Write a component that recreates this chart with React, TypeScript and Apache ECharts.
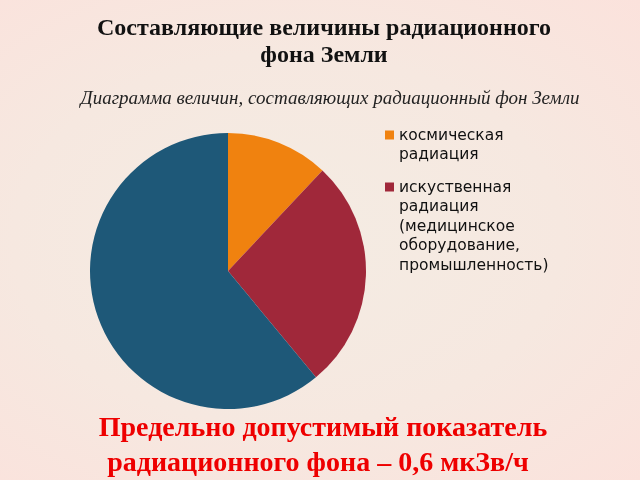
import { useEffect, useRef } from 'react';
import * as echarts from 'echarts';

// slice names + shares (clockwise from 12 o'clock)
const sliceNames = ['космическая радиация', 'искуственная радиация', 'природная радиация'];
const sliceValues = [12, 27, 61];
const sliceColors = ['#f0820f', '#a0283a', '#1e5878'];
// how the legend wraps each name
const legendLabels = [
  'космическая\nрадиация',
  'искуственная\nрадиация\n(медицинское\nоборудование,\nпромышленность)',
];

const LH = 19.4;

export default function App() {
  const elRef = useRef<HTMLDivElement>(null);

  useEffect(() => {
    const el = elRef.current;
    if (!el) return;
    const chart = echarts.init(el, undefined, { renderer: 'svg' });

    // legend text is centred on its icon; pad with empty lines on top so the
    // icon sits level with the first line instead
    const legendFor = (i: number, iconY: number) => {
      const lines = legendLabels[i].split('\n').length;
      const text = '\n'.repeat(lines - 1) + legendLabels[i];
      const boxH = (2 * lines - 1) * LH;
      return {
        show: true,
        data: [sliceNames[i]],
        left: 385,
        top: iconY - boxH / 2,
        padding: 0,
        orient: 'vertical' as const,
        icon: 'rect',
        itemWidth: 9,
        itemHeight: 9,
        selectedMode: false,
        formatter: () => text,
        textStyle: {
          fontFamily: 'DejaVu Sans',
          fontSize: 15.5,
          color: '#111',
          lineHeight: LH,
        },
      };
    };

    const serif = {
      fontFamily: 'Liberation Serif',
      fontWeight: 'bold' as const,
    };

    chart.setOption({
      animation: false,
      backgroundColor: 'transparent',
      title: [
        {
          text: 'Составляющие величины радиационного\nфона Земли',
          left: 319,
          top: 8,
          textAlign: 'center',
          textStyle: { ...serif, fontSize: 24, lineHeight: 27, color: '#111' },
        },
        {
          text: 'Диаграмма величин, составляющих радиационный фон Земли',
          left: 325,
          top: 83,
          textAlign: 'center',
          textStyle: {
            fontFamily: 'Liberation Serif',
            fontStyle: 'italic',
            fontWeight: 'normal',
            fontSize: 19,
            color: '#222',
          },
        },
        {
          text: 'Предельно допустимый показатель',
          left: 318,
          top: 407,
          textAlign: 'center',
          textStyle: { ...serif, fontSize: 28, lineHeight: 28, color: '#ee0000' },
        },
        {
          text: 'радиационного фона – 0,6 мкЗв/ч',
          left: 313,
          top: 442,
          textAlign: 'center',
          textStyle: { ...serif, fontSize: 28, lineHeight: 28, color: '#ee0000' },
        },
      ],
      legend: [legendFor(0, 135), legendFor(1, 187)],
      series: [
        {
          type: 'pie',
          center: [228, 271],
          radius: 138,
          startAngle: 90,
          clockwise: true,
          label: { show: false },
          labelLine: { show: false },
          emphasis: { disabled: true },
          data: sliceNames.map((name, i) => ({
            name,
            value: sliceValues[i],
            itemStyle: { color: sliceColors[i] },
          })),
        },
      ],
    });

    return () => chart.dispose();
  }, []);

  return (
    <div
      ref={elRef}
      style={{
        position: 'fixed',
        left: 0,
        top: 0,
        width: 640,
        height: 480,
        background: 'radial-gradient(ellipse at 45% 50%, #f4ece3 0%, #f6e8e0 55%, #fbe2dc 100%)',
      }}
    />
  );
}
